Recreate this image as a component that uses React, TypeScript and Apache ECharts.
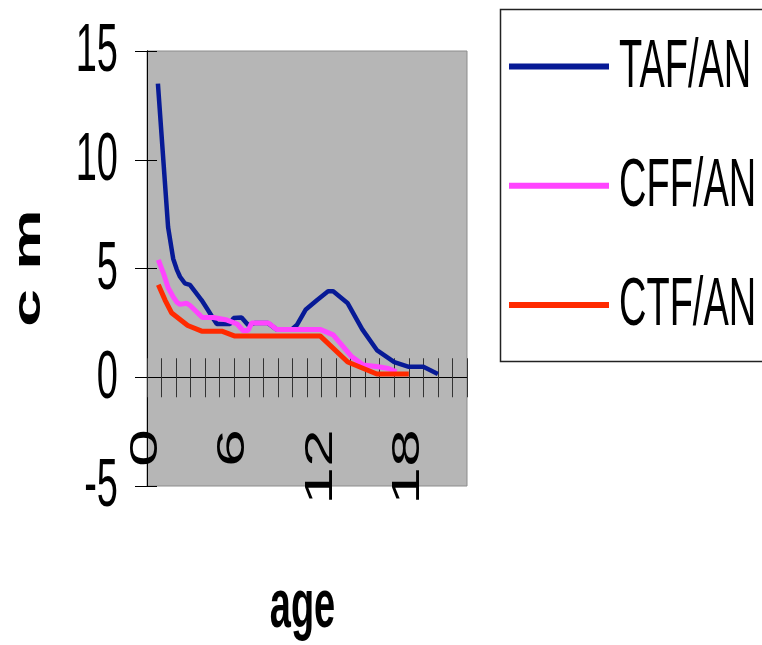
import React, { useEffect, useRef } from "react";
import * as echarts from "echarts";

// x: age (years), y: cm
const xTickLabels = ["0", "6", "12", "18"];
const yTickLabels = [-5, 0, 5, 10, 15];

const seriesNames = ["TAF/AN", "CFF/AN", "CTF/AN"];
const seriesColors = ["#071a96", "#ff44ff", "#ff2a00"];

const tafAges = [
  0.75, 1.45, 1.8, 2.05, 2.27, 2.6, 2.95, 3.75, 4.2, 4.55, 4.8,
  5.7, 5.95, 6.5, 6.95, 7.45, 8.3, 8.9, 9.95, 10.3, 10.9, 11.7,
  12.45, 12.8, 13.8, 14.8, 15.8, 17.0, 18.0, 19.0, 20.0,
];
const tafValues = [
  13.5, 6.9, 5.45, 4.95, 4.62, 4.32, 4.25, 3.55, 3.08, 2.7, 2.45,
  2.45, 2.72, 2.75, 2.4, 2.5, 2.5, 2.2, 2.2, 2.4, 3.1, 3.55,
  3.95, 3.95, 3.4, 2.2, 1.25, 0.7, 0.48, 0.48, 0.15,
];

const cffAges = [
  0.78, 1.12, 1.46, 1.8, 2.05, 2.27, 2.73, 2.96, 3.42, 3.8, 4.56,
  5.5, 6.2, 6.6, 6.95, 7.2, 8.34, 8.92, 11.9, 12.8, 13.5, 14.07,
  14.87, 15.9, 16.6, 17.15,
];
const cffValues = [
  5.4, 4.8, 4.1, 3.7, 3.45, 3.35, 3.4, 3.3, 3.0, 2.75, 2.75,
  2.63, 2.45, 2.15, 2.15, 2.5, 2.5, 2.2, 2.2, 1.95, 1.4, 0.95,
  0.56, 0.48, 0.4, 0.25,
];

const ctfAges = [
  0.78, 1.24, 1.7, 2.8, 3.76, 5.14, 6.0, 11.9, 13.8, 15.8, 18.0,
];
const ctfValues = [
  4.25, 3.55, 2.95, 2.38, 2.12, 2.12, 1.9, 1.9, 0.7, 0.15, 0.15,
];

const FONT = "'Liberation Sans', Arial, sans-serif";
const STRETCH = 1.8;

function txt(text: string, x: number, y: number, opts: any = {}) {
  const align = opts.align || "center";
  const valign = opts.valign || "middle";
  return {
    type: "text",
    x,
    y,
    rotation: opts.rotation || 0,
    scaleX: opts.scaleX || 1,
    scaleY: opts.scaleY || 1,
    silent: true,
    z: 100,
    style: {
      text,
      fill: "#000",
      fontSize: opts.size || 38,
      fontFamily: FONT,
      fontWeight: opts.bold ? "bold" : "normal",
      align,
      verticalAlign: valign,
      textAlign: align,
      textVerticalAlign: valign,
    },
  };
}

const pairs = (xs: number[], ys: number[]) => xs.map((x, i) => [x, ys[i]]);

export default function App() {
  const ref = useRef<HTMLDivElement>(null);

  useEffect(() => {
    if (!ref.current) return;
    const chart = echarts.init(ref.current, undefined, { renderer: "svg" });

    const xAxisBase = {
      type: "value",
      min: 0,
      max: 22,
      interval: 1,
      position: "bottom",
      gridIndex: 0,
      axisLabel: { show: false },
      splitLine: { show: false },
    };
    const yAxisBase = {
      type: "value",
      min: -5,
      max: 15,
      interval: 5,
      position: "left",
      gridIndex: 0,
      axisLabel: { show: false },
      splitLine: { show: false },
      axisLine: { show: true, onZero: false, lineStyle: { color: "#000", width: 1 } },
    };

    chart.setOption({
      animation: false,
      grid: {
        left: 147,
        top: 51,
        width: 320,
        height: 435,
        show: true,
        backgroundColor: "#b6b6b6",
        borderColor: "#8c8c8c",
        borderWidth: 1,
      },
      legend: { show: false, data: seriesNames },
      xAxis: [
        {
          ...xAxisBase,
          axisLine: { show: true, onZero: true, onZeroAxisIndex: 0, lineStyle: { color: "#000", width: 1 } },
          axisTick: { show: true, inside: true, length: 19, lineStyle: { color: "#333" } },
        },
        {
          ...xAxisBase,
          axisLine: { show: true, onZero: true, onZeroAxisIndex: 0, lineStyle: { color: "#000", width: 1 } },
          axisTick: { show: true, inside: false, length: 20, lineStyle: { color: "#333" } },
        },
      ],
      yAxis: [
        { ...yAxisBase, axisTick: { show: true, inside: false, length: 12, lineStyle: { color: "#000" } } },
        { ...yAxisBase, axisTick: { show: true, inside: true, length: 10, lineStyle: { color: "#000" } } },
      ],
      series: [
        { name: seriesNames[0], type: "line", data: pairs(tafAges, tafValues), color: seriesColors[0], showSymbol: false, symbol: "none", lineStyle: { width: 4.5, color: seriesColors[0] }, z: 3 },
        { name: seriesNames[1], type: "line", data: pairs(cffAges, cffValues), color: seriesColors[1], showSymbol: false, symbol: "none", lineStyle: { width: 5, color: seriesColors[1] }, z: 4 },
        { name: seriesNames[2], type: "line", data: pairs(ctfAges, ctfValues), color: seriesColors[2], showSymbol: false, symbol: "none", lineStyle: { width: 5, color: seriesColors[2] }, z: 5 },
      ],
    });

    const graphics: any[] = [];
    // y tick labels
    yTickLabels.forEach((v) => {
      const py = chart.convertToPixel({ yAxisIndex: 0 }, v) as number;
      graphics.push(txt(String(v), 118, py - 3, { align: "right", scaleY: STRETCH }));
    });
    // x tick labels (rotated)
    xTickLabels.forEach((lab) => {
      const px = chart.convertToPixel({ xAxisIndex: 0 }, Number(lab)) as number;
      graphics.push(
        txt(lab, px - 3, 429, { align: "right", rotation: Math.PI / 2, scaleX: STRETCH })
      );
    });
    // axis titles
    graphics.push(txt("c m", 27, 268, { bold: true, rotation: Math.PI / 2, scaleX: STRETCH }));
    graphics.push(txt("age", 302.5, 603.5, { bold: true, scaleY: STRETCH }));

    // legend box
    graphics.push({
      type: "rect",
      silent: true,
      z: 90,
      shape: { x: 500.5, y: 9.5, width: 320, height: 352 },
      style: { fill: "#fff", stroke: "#222", lineWidth: 1.5 },
    });
    const legendY = [66.5, 185.7, 305];
    seriesNames.forEach((name, i) => {
      graphics.push({
        type: "line",
        silent: true,
        z: 95,
        shape: { x1: 509, y1: legendY[i], x2: 609, y2: legendY[i] },
        style: { stroke: seriesColors[i], lineWidth: 6 },
      });
      graphics.push(txt(name, 619, legendY[i] - 3, { align: "left", scaleY: STRETCH }));
    });

    chart.setOption({ graphic: graphics });

    return () => {
      chart.dispose();
    };
  }, []);

  return (
    <div
      ref={ref}
      style={{ position: "fixed", left: 0, top: 0, width: 762, height: 645 }}
    />
  );
}
